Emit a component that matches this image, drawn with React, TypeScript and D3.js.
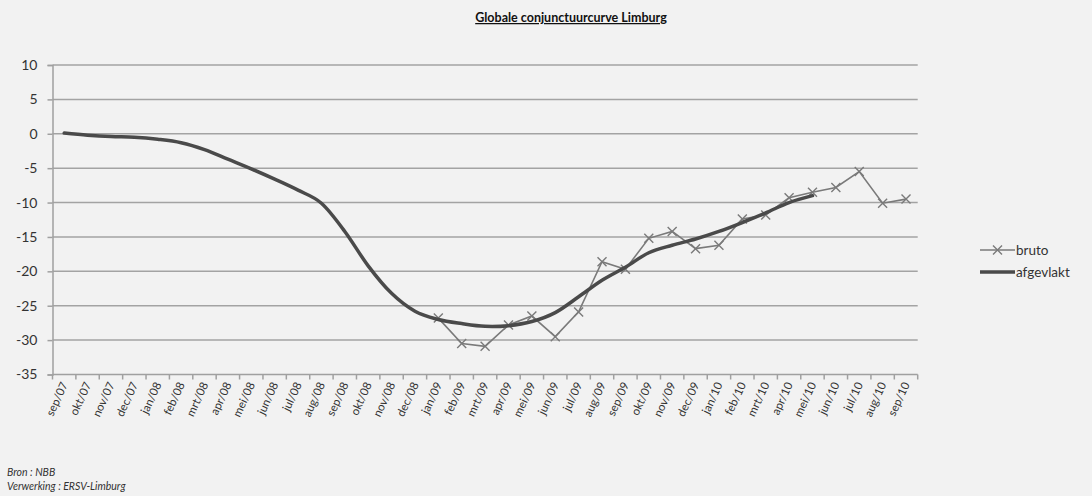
import React, { useEffect, useRef } from 'react'
import * as d3 from 'd3'

const months = [
  'sep/07', 'okt/07', 'nov/07', 'dec/07', 'jan/08', 'feb/08', 'mrt/08', 'apr/08', 'mei/08', 'jun/08',
  'jul/08', 'aug/08', 'sep/08', 'okt/08', 'nov/08', 'dec/08', 'jan/09', 'feb/09', 'mrt/09', 'apr/09',
  'mei/09', 'jun/09', 'jul/09', 'aug/09', 'sep/09', 'okt/09', 'nov/09', 'dec/09', 'jan/10', 'feb/10',
  'mrt/10', 'apr/10', 'mei/10', 'jun/10', 'jul/10', 'aug/10', 'sep/10',
]

// afgevlakt: sep/07 .. mei/10
const smoothStart = 'sep/07'
const smoothValues = [
  0.1, -0.2, -0.4, -0.5, -0.8, -1.3, -2.3, -3.7, -5.1, -6.6,
  -8.2, -10.1, -14.2, -19.2, -23.2, -25.8, -27.0, -27.6, -28.0, -27.9,
  -27.3, -26.0, -23.7, -21.3, -19.4, -17.3, -16.2, -15.3, -14.2, -12.9,
  -11.5, -10.0, -9.0,
]

// bruto: jan/09 .. sep/10
const rawStart = 'jan/09'
const rawValues = [
  -26.8, -30.5, -30.9, -27.8, -26.5, -29.5, -25.9, -18.6, -19.7, -15.2,
  -14.2, -16.7, -16.2, -12.4, -11.8, -9.3, -8.5, -7.8, -5.5, -10.1, -9.5,
]

const yTicks = [10, 5, 0, -5, -10, -15, -20, -25, -30, -35]

const W = 1092
const H = 496
const FONT = 'Lato, "Open Sans", sans-serif'

const App = () => {
  const svg = useRef(null)

  useEffect(() => {
    const d3svg = d3.select(svg.current)
    d3svg.selectAll('*').remove()

    const x = d3.scaleBand().domain(months).range([52.5, 917.7]).padding(0)
    const y = d3.scaleLinear().domain([-35, 10]).range([374.5, 65])
    const cx = (m: string) => x(m) + x.bandwidth() / 2

    d3svg.append('rect').attr('width', W).attr('height', H).attr('fill', '#f2f2f2')

    // gridlines
    d3svg
      .append('g')
      .selectAll('line')
      .data(yTicks.filter(t => t !== -35))
      .enter()
      .append('line')
      .attr('x1', 52.5)
      .attr('x2', 917.7)
      .attr('y1', d => y(d))
      .attr('y2', d => y(d))
      .attr('stroke', '#a3a3a3')
      .attr('stroke-width', 1.5)

    // y axis
    const yAxis = d3svg.append('g').attr('transform', 'translate(52.5,0)').call(d3.axisLeft(y).tickValues(yTicks).tickSize(5).tickFormat(d => String(d)))
    yAxis.select('.domain').attr('stroke', '#a0a0a0').attr('stroke-width', 1.5)
    yAxis.selectAll('.tick line').attr('stroke', '#a0a0a0').attr('stroke-width', 1.5)
    yAxis
      .selectAll('.tick text')
      .attr('x', -15)
      .attr('fill', '#333')
      .style('font-family', FONT)
      .style('font-size', '14px')

    // x axis
    const xAxis = d3svg.append('g').attr('transform', `translate(0,${y(-35)})`)
    xAxis
      .append('line')
      .attr('x1', 52.5)
      .attr('x2', 917.7)
      .attr('stroke', '#a0a0a0')
      .attr('stroke-width', 1.5)
    xAxis
      .selectAll('.xtick')
      .data([...months.map(m => x(m)), 917.7])
      .enter()
      .append('line')
      .attr('x1', d => d)
      .attr('x2', d => d)
      .attr('y1', 0)
      .attr('y2', 5)
      .attr('stroke', '#a0a0a0')
      .attr('stroke-width', 1.5)
    xAxis
      .selectAll('.xlabel')
      .data(months)
      .enter()
      .append('text')
      .attr('transform', d => `translate(${cx(d) + 4},${10}) rotate(-65)`)
      .attr('text-anchor', 'end')
      .attr('fill', '#333')
      .style('font-family', FONT)
      .style('font-size', '11.5px')
      .text(d => d)

    const i0 = months.indexOf(smoothStart)
    const smooth = smoothValues.map((v, i) => ({ m: months[i0 + i], v }))
    const r0 = months.indexOf(rawStart)
    const raw = rawValues.map((v, i) => ({ m: months[r0 + i], v }))

    // bruto
    const rawLine = d3
      .line<{ m: string; v: number }>()
      .x(d => cx(d.m))
      .y(d => y(d.v))
    d3svg
      .append('path')
      .attr('d', rawLine(raw))
      .attr('fill', 'none')
      .attr('stroke', '#7a7a7a')
      .attr('stroke-width', 1.6)

    const cross = (g, px: number, py: number, s: number) => {
      g.append('path')
        .attr('d', `M${px - s},${py - s}L${px + s},${py + s}M${px - s},${py + s}L${px + s},${py - s}`)
        .attr('stroke', '#7a7a7a')
        .attr('stroke-width', 1.4)
        .attr('fill', 'none')
    }
    const marks = d3svg.append('g')
    raw.forEach(d => cross(marks, cx(d.m), y(d.v), 4.5))

    // afgevlakt
    const smoothLine = d3
      .line<{ m: string; v: number }>()
      .x(d => cx(d.m))
      .y(d => y(d.v))
      .curve(d3.curveCardinal.tension(0))
    d3svg
      .append('path')
      .attr('d', smoothLine(smooth))
      .attr('fill', 'none')
      .attr('stroke', '#4a4a4a')
      .attr('stroke-width', 3.5)
      .attr('stroke-linecap', 'round')

    // legend
    const lg = d3svg.append('g').style('font-family', FONT).style('font-size', '13.5px')
    lg.append('line').attr('x1', 980).attr('x2', 1015).attr('y1', 250).attr('y2', 250).attr('stroke', '#7a7a7a').attr('stroke-width', 1.6)
    cross(lg, 997.5, 250, 4.5)
    lg.append('text').attr('x', 1016).attr('y', 254.5).attr('fill', '#333').text('bruto')
    lg.append('line').attr('x1', 980).attr('x2', 1015).attr('y1', 272).attr('y2', 272).attr('stroke', '#4a4a4a').attr('stroke-width', 3.5)
    lg.append('text').attr('x', 1016).attr('y', 276.5).attr('fill', '#333').text('afgevlakt')

    // title
    d3svg
      .append('text')
      .attr('x', 571)
      .attr('y', 22)
      .attr('text-anchor', 'middle')
      .attr('fill', '#111')
      .style('font-family', FONT)
      .style('font-size', '12.5px')
      .style('font-weight', 'bold')
      .style('text-decoration', 'underline')
      .text('Globale conjunctuurcurve Limburg')

    // footer
    const ft = d3svg.append('g').style('font-family', FONT).style('font-size', '10.5px').style('font-style', 'italic').attr('fill', '#333')
    ft.append('text').attr('x', 7).attr('y', 476).text('Bron : NBB')
    ft.append('text').attr('x', 7).attr('y', 490).text('Verwerking : ERSV-Limburg')
  }, [])

  return <svg ref={svg} width={W} height={H} style={{ position: 'absolute', left: 0, top: 0 }}></svg>
}

export default App
